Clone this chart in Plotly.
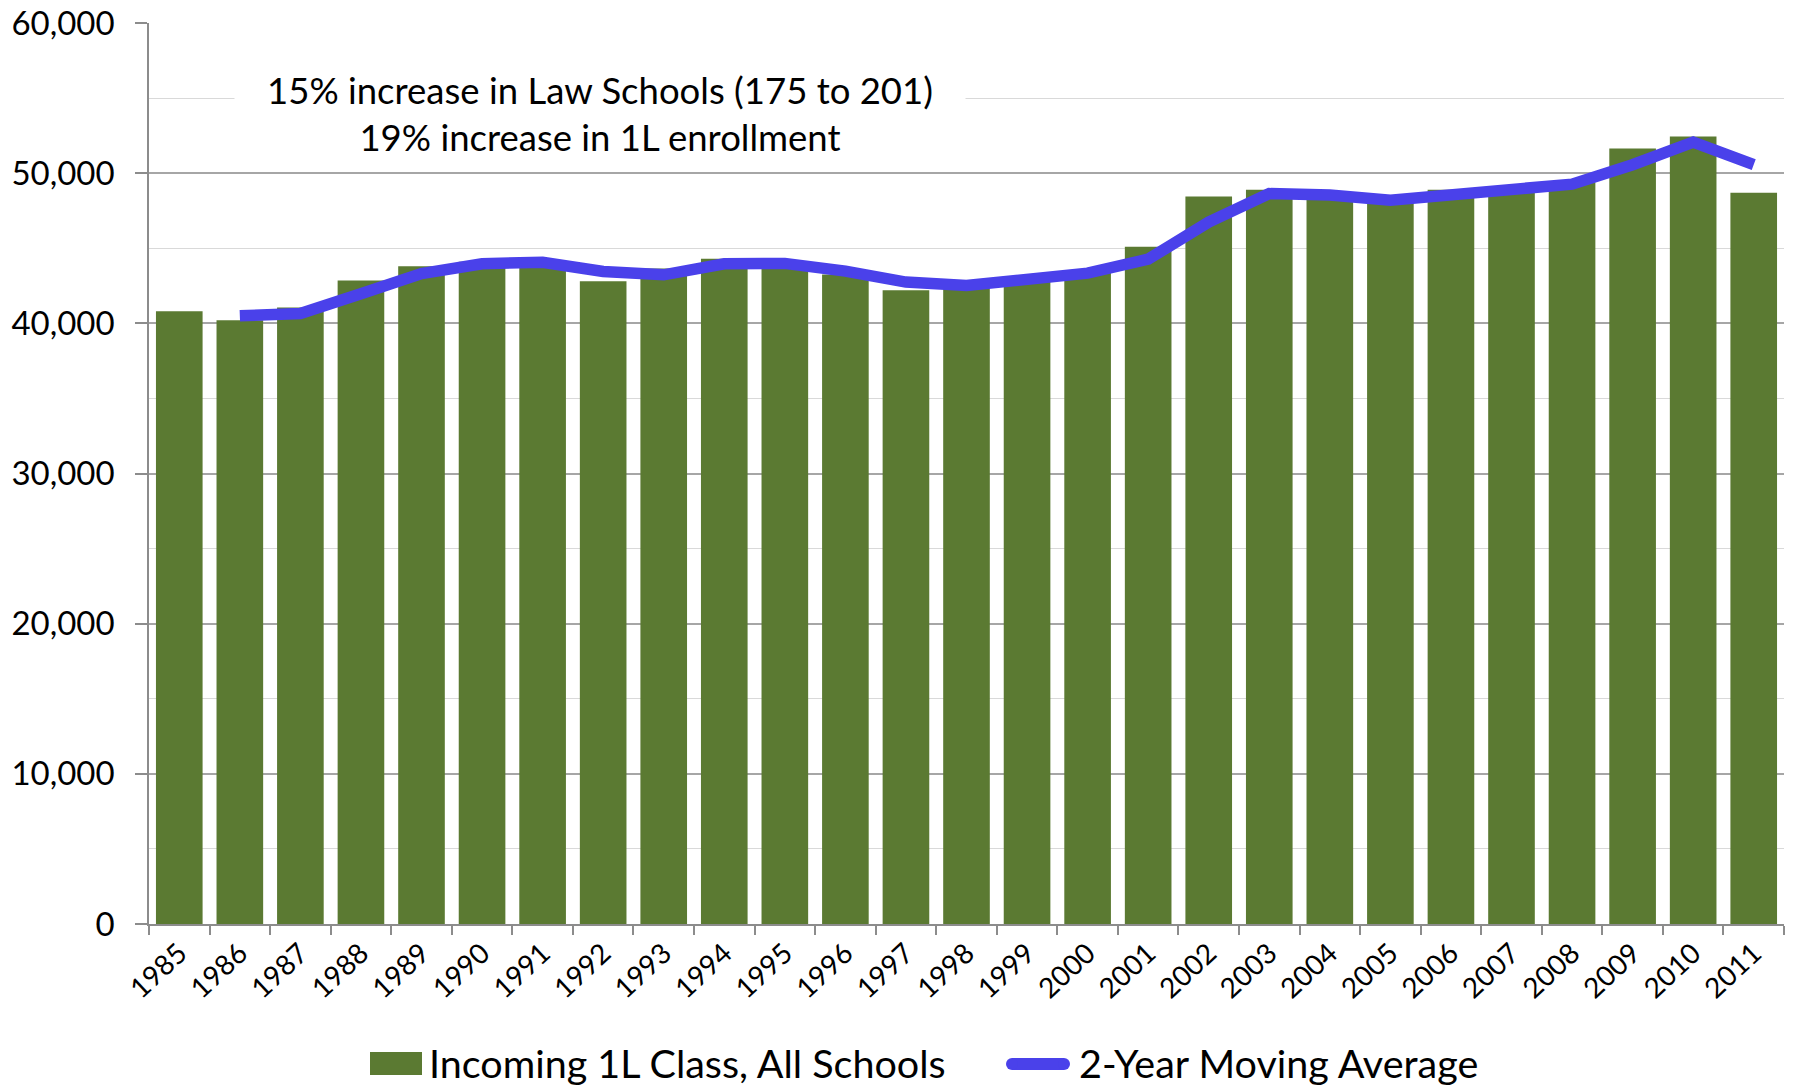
import plotly.graph_objects as go

years = [str(y) for y in range(1985, 2012)]
enrollment = [40800, 40200, 41050, 42850, 43800, 44100, 44050, 42800, 43650, 44300,
              43700, 43250, 42200, 42800, 43150, 43500, 45100, 48450, 48900, 48250,
              48150, 48900, 49100, 49400, 51650, 52450, 48700]
ma_years = years[1:]
moving_avg = [40500, 40650, 41970, 43320, 43970, 44070, 43450, 43230, 43970, 43990,
              43480, 42750, 42520, 43000, 43340, 44270, 46740, 48640, 48550, 48200,
              48540, 49010, 49270, 50560, 52060, 50570]

bar_name = "Incoming 1L Class, All Schools"
line_name = "2-Year Moving Average"
note_text = "15% increase in Law Schools (175 to 201)<br>19% increase in 1L enrollment"

GREEN = "#5B7A32"
BLUE = "#4A41EA"
FONT = "Lato"

W, H = 1795, 1085
L, R, T, B = 149, 11, 23, 161
PW, PH = W - L - R, H - T - B

def px(x):
    return (x - L) / PW

def py(y):
    return (H - B - y) / PH

fig = go.Figure()
fig.add_trace(go.Bar(x=years, y=enrollment, name=bar_name, marker=dict(color=GREEN, line=dict(width=0)),
                     showlegend=False))
fig.add_trace(go.Scatter(x=ma_years, y=moving_avg, name=line_name, mode="lines",
                         line=dict(color=BLUE, width=11.5), showlegend=False))

shapes = [
    dict(type="rect", xref="paper", yref="paper", x0=px(370), x1=px(422), y0=py(1075), y1=py(1052),
         fillcolor=GREEN, line=dict(width=0)),
    dict(type="line", xref="paper", yref="paper", x0=px(1012), x1=px(1064), y0=py(1064), y1=py(1064),
         line=dict(color=BLUE, width=12)),
    dict(type="circle", xref="paper", yref="paper", x0=px(1006), x1=px(1018), y0=py(1070), y1=py(1058),
         fillcolor=BLUE, line=dict(width=0)),
    dict(type="circle", xref="paper", yref="paper", x0=px(1058), x1=px(1070), y0=py(1070), y1=py(1058),
         fillcolor=BLUE, line=dict(width=0)),
]

annotations = [
    dict(text=note_text, xref="paper", yref="paper", x=px(600), y=py(113), xanchor="center", yanchor="middle",
         showarrow=False, align="center", bgcolor="white", borderpad=10, width=710,
         font=dict(family=FONT, size=36.5, color="black")),
    dict(text=bar_name, xref="paper", yref="paper", x=px(427), y=py(1062), xanchor="left", yanchor="middle",
         showarrow=False, font=dict(family=FONT, size=39.5, color="black")),
    dict(text=line_name, xref="paper", yref="paper", x=px(1077), y=py(1062), xanchor="left", yanchor="middle",
         showarrow=False, font=dict(family=FONT, size=39.5, color="black")),
]

fig.update_layout(
    width=W, height=H,
    margin=dict(l=L, r=R, t=T, b=B, pad=0, autoexpand=False),
    paper_bgcolor="white", plot_bgcolor="white",
    bargap=0.23,
    font=dict(family=FONT, color="black"),
    shapes=shapes, annotations=annotations,
    showlegend=False,
)
fig.update_xaxes(type="category", automargin=False, showgrid=False, showline=True, linecolor="#8C8C8C",
                 linewidth=1.5, ticks="outside", tickson="boundaries", ticklen=9, tickcolor="#8C8C8C",
                 tickwidth=1.5, tickangle=-43, tickfont=dict(family=FONT, size=28, color="black"))
fig.update_yaxes(range=[0, 60000], dtick=10000, tickformat=",", automargin=False, showline=True,
                 linecolor="#8C8C8C", linewidth=1.5, ticks="outside", ticklen=12, tickcolor="#8C8C8C",
                 tickwidth=1.5, gridcolor="#A6A6A6", gridwidth=1.5, zeroline=False,
                 minor=dict(dtick=5000, showgrid=True, gridcolor="#D9D9D9", gridwidth=1, ticks=""),
                 ticklabelstandoff=14,
                 tickfont=dict(family=FONT, size=33, color="black"))

fig.write_html("out.html", config={"displayModeBar": False},
               post_script="document.body.style.margin='0px';document.body.style.overflow='hidden';")
